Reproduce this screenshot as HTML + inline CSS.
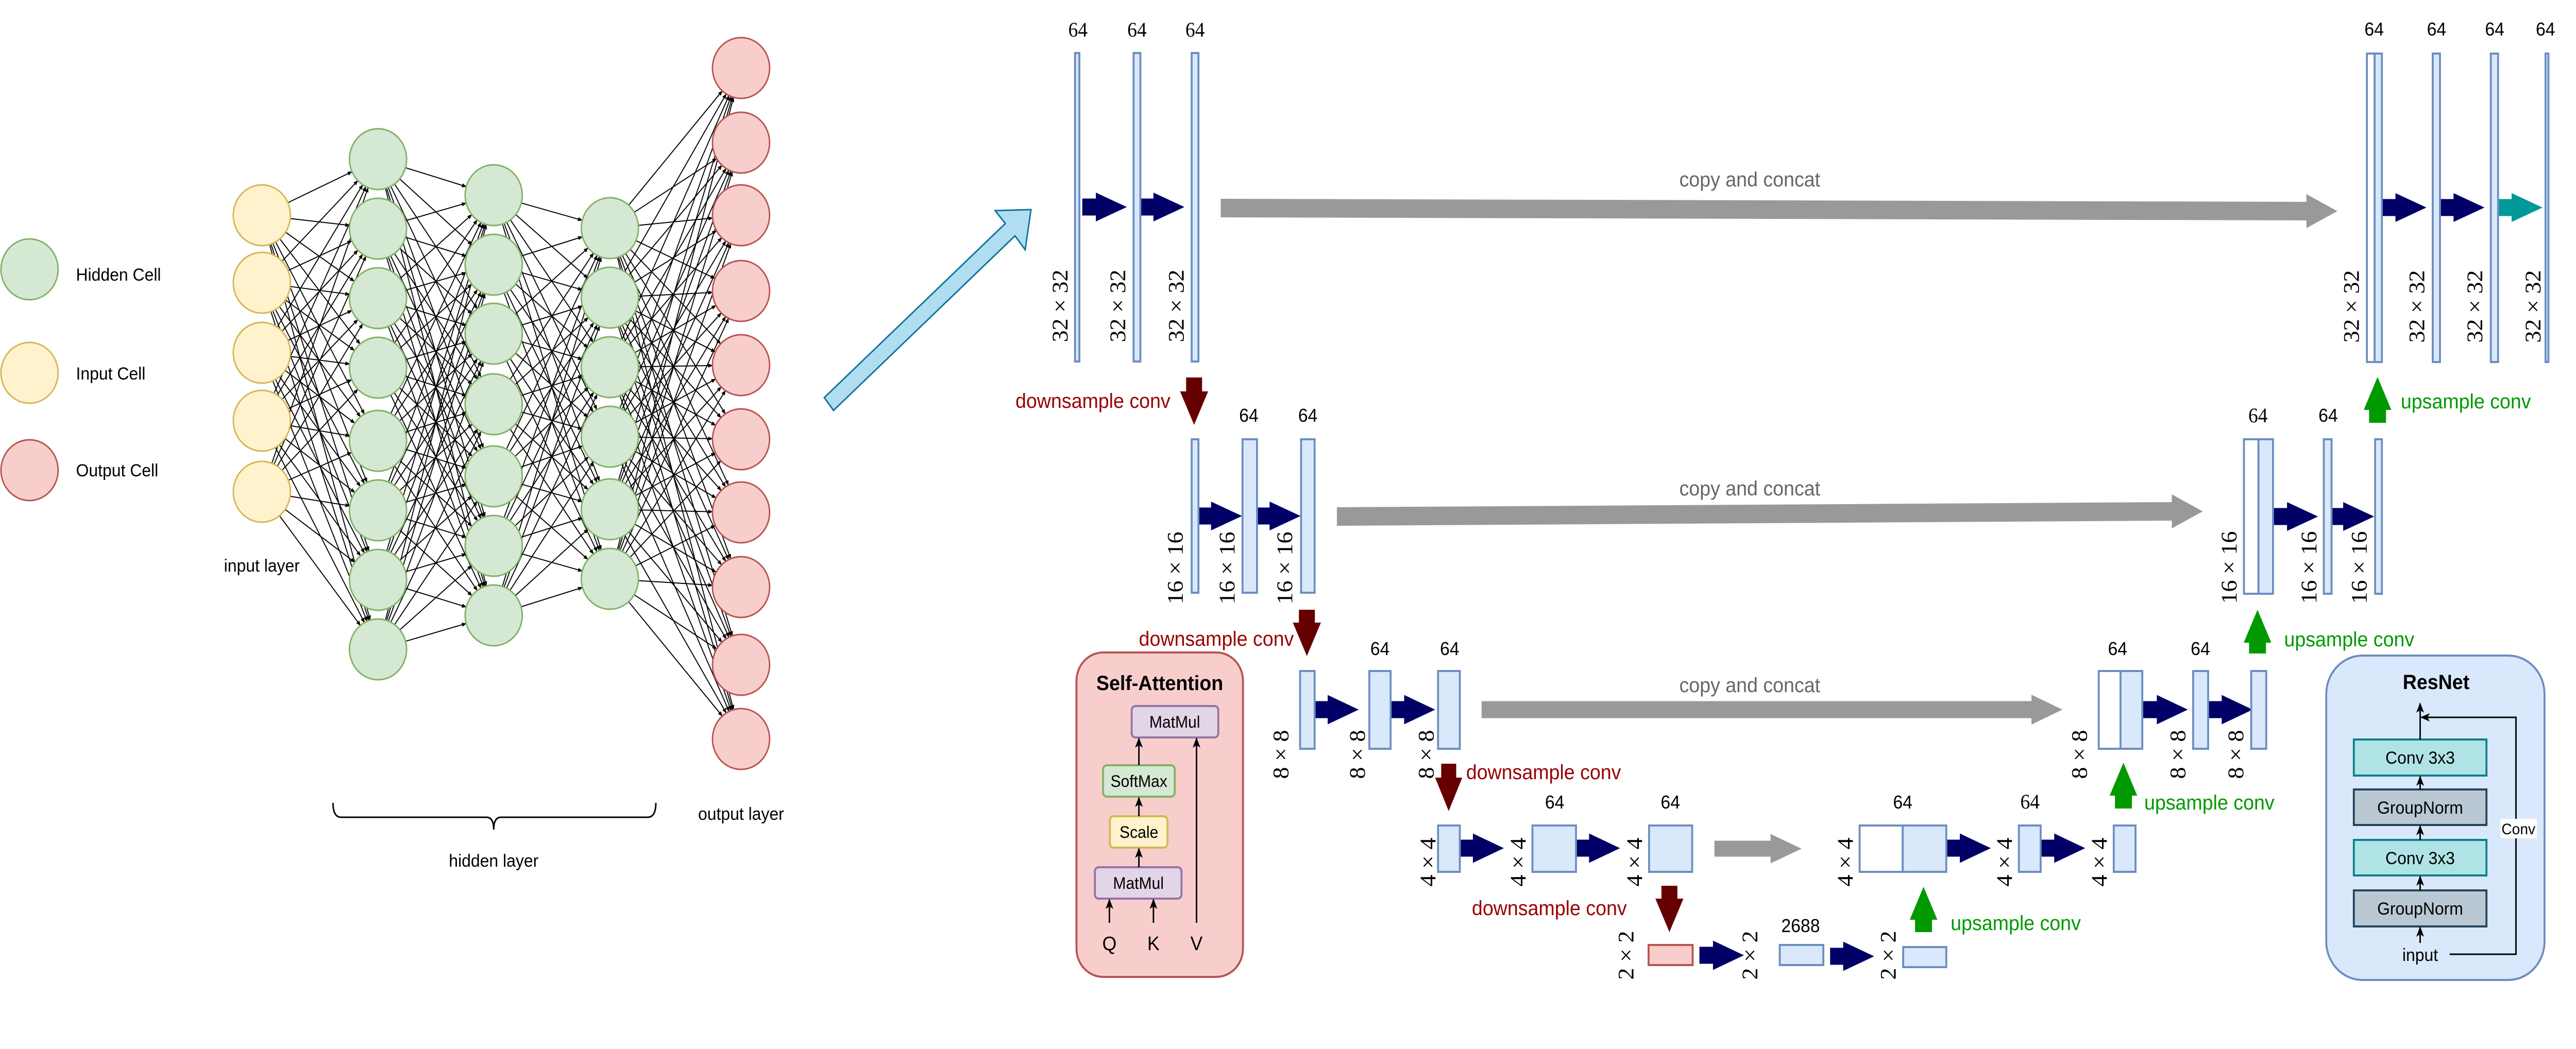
<!DOCTYPE html>
<html><head><meta charset="utf-8"><style>
html,body{margin:0;padding:0;background:#fff;overflow:hidden;width:100%;height:100%;}
svg{display:block;position:fixed;left:0;top:0;width:100vw;height:100vh;}
.s{font-family:"Liberation Sans",sans-serif;}
.r{font-family:"Liberation Serif",serif;}
</style></head><body>
<svg id="sv" viewBox="0 0 5322 2037" preserveAspectRatio="none" xmlns="http://www.w3.org/2000/svg">
<defs>
<marker id="ah" markerWidth="10" markerHeight="8" refX="9" refY="4" orient="auto" markerUnits="userSpaceOnUse"><path d="M0,0 L10,4 L0,8 z" fill="#000"/></marker>
<marker id="ah2" markerWidth="20" markerHeight="16" refX="18" refY="8" orient="auto" markerUnits="userSpaceOnUse"><path d="M0,0 L20,8 L0,16 L5,8 z" fill="#000"/></marker>
</defs>
<g id="edges" stroke="#000" stroke-width="2" fill="none"></g>
<g id="nodes"></g>
<g id="shapes"></g>

<!-- legend -->
<circle cx="61" cy="523" r="59" fill="#d5e8d4" stroke="#82b366" stroke-width="3"/>
<circle cx="61" cy="724" r="59" fill="#fff2cc" stroke="#d6b656" stroke-width="3"/>
<circle cx="61" cy="913" r="59" fill="#f8cecc" stroke="#b85450" stroke-width="3"/>
<g class="s" font-size="34" fill="#000">
<text x="157" y="545">Hidden Cell</text>
<text x="157" y="737">Input Cell</text>
<text x="157" y="925">Output Cell</text>
<text x="541" y="1110" text-anchor="middle">input layer</text>
<text x="1531" y="1592" text-anchor="middle">output layer</text>
<text x="1020" y="1683" text-anchor="middle">hidden layer</text>
</g>
<path d="M688,1559 Q688,1587 705,1587 L1005,1587 Q1020,1587 1020,1611 M1020,1611 Q1020,1587 1035,1587 L1338,1587 Q1355,1587 1355,1559" fill="none" stroke="#000" stroke-width="3"/>

<!-- big blue arrow -->
<polygon points="1703,772 2077,434 2056,409 2130,407 2118,485 2097,458 1722,797" fill="#b1ddf0" stroke="#10739e" stroke-width="3"/>

<!-- U-Net bars -->
<g fill="#dae8fc" stroke="#6c8ebf" stroke-width="4">
<rect x="2221" y="103" width="9" height="599"/>
<rect x="2342" y="103" width="14" height="599"/>
<rect x="2462" y="103" width="14" height="599"/>
<rect x="4890" y="104" width="16" height="599" fill="#fff"/>
<rect x="4906" y="104" width="15" height="599"/>
<rect x="5026" y="104" width="15" height="599"/>
<rect x="5146" y="104" width="15" height="599"/>
<rect x="5259" y="104" width="6" height="599"/>

<rect x="2462" y="853" width="14" height="298"/>
<rect x="2567" y="853" width="30" height="298"/>
<rect x="2688" y="853" width="28" height="298"/>
<rect x="4636" y="853" width="30" height="300" fill="#fff"/>
<rect x="4666" y="853" width="30" height="300"/>
<rect x="4801" y="853" width="16" height="300"/>
<rect x="4907" y="853" width="14" height="300"/>

<rect x="2686" y="1303" width="30" height="151"/>
<rect x="2829" y="1303" width="44" height="151"/>
<rect x="2971" y="1303" width="45" height="151"/>
<rect x="4336" y="1303" width="45" height="151" fill="#fff"/>
<rect x="4381" y="1303" width="45" height="151"/>
<rect x="4531" y="1303" width="31" height="151"/>
<rect x="4651" y="1303" width="31" height="151"/>

<rect x="2971" y="1603" width="45" height="90"/>
<rect x="3166" y="1603" width="90" height="90"/>
<rect x="3407" y="1603" width="89" height="90"/>
<rect x="3842" y="1603" width="89" height="90" fill="#fff"/>
<rect x="3931" y="1603" width="90" height="90"/>
<rect x="4171" y="1603" width="45" height="90"/>
<rect x="4367" y="1603" width="45" height="90"/>

<rect x="3406" y="1835" width="91" height="39" fill="#f8cecc" stroke="#b85450"/>
<rect x="3677" y="1835" width="90" height="39"/>
<rect x="3932" y="1839" width="89" height="39"/>
</g>

<!-- U-Net labels -->
<g class="r" font-size="40" text-anchor="middle" fill="#000">
<text x="2227" y="71">64</text><text x="2349" y="71">64</text><text x="2469" y="71">64</text>
<text x="4665" y="820">64</text><text x="4194" y="1570">64</text>
</g>
<g class="s" font-size="36" text-anchor="middle" fill="#000">
<text x="4905" y="69">64</text><text x="5034" y="69">64</text><text x="5154" y="69">64</text><text x="5259" y="69">64</text>
<text x="2580" y="819">64</text><text x="2702" y="819">64</text>
<text x="4810" y="819">64</text>
<text x="2851" y="1272">64</text><text x="2995" y="1272">64</text>
<text x="4375" y="1272">64</text><text x="4546" y="1272">64</text>
<text x="3212" y="1570">64</text><text x="3451" y="1570">64</text><text x="3931" y="1570">64</text>
<text x="3720" y="1810">2688</text>
</g>
<g class="r" font-size="46" text-anchor="middle" dominant-baseline="central" fill="#000">
<text transform="translate(2190,594) rotate(-90)">32 × 32</text>
<text transform="translate(2309,594) rotate(-90)">32 × 32</text>
<text transform="translate(2430,594) rotate(-90)">32 × 32</text>
<text transform="translate(4858,595) rotate(-90)">32 × 32</text>
<text transform="translate(4993,595) rotate(-90)">32 × 32</text>
<text transform="translate(5113,595) rotate(-90)">32 × 32</text>
<text transform="translate(5233,595) rotate(-90)">32 × 32</text>
<text transform="translate(2428,1103) rotate(-90)">16 × 16</text>
<text transform="translate(2535,1103) rotate(-90)">16 × 16</text>
<text transform="translate(2654,1103) rotate(-90)">16 × 16</text>
<text transform="translate(4605,1102) rotate(-90)">16 × 16</text>
<text transform="translate(4770,1102) rotate(-90)">16 × 16</text>
<text transform="translate(4874,1102) rotate(-90)">16 × 16</text>
<text transform="translate(2646,1465) rotate(-90)">8 × 8</text>
<text transform="translate(2804,1465) rotate(-90)">8 × 8</text>
<text transform="translate(2946,1465) rotate(-90)">8 × 8</text>
<text transform="translate(4296,1465) rotate(-90)">8 × 8</text>
<text transform="translate(4499,1465) rotate(-90)">8 × 8</text>
<text transform="translate(4619,1465) rotate(-90)">8 × 8</text>
<text transform="translate(2950,1674) rotate(-90)">4 × 4</text>
<text transform="translate(3136,1674) rotate(-90)">4 × 4</text>
<text transform="translate(3377,1674) rotate(-90)">4 × 4</text>
<text transform="translate(3812,1674) rotate(-90)">4 × 4</text>
<text transform="translate(4141,1674) rotate(-90)">4 × 4</text>
<text transform="translate(4337,1674) rotate(-90)">4 × 4</text>
<text transform="translate(3359,1855) rotate(-90)">2 × 2</text>
<text transform="translate(3615,1855) rotate(-90)">2 × 2</text>
<text transform="translate(3901,1855) rotate(-90)">2 × 2</text>
</g>
<g class="s" font-size="40">
<text x="3615" y="362" text-anchor="middle" fill="#666">copy and concat</text>
<text x="3615" y="962" text-anchor="middle" fill="#666">copy and concat</text>
<text x="3615" y="1344" text-anchor="middle" fill="#666">copy and concat</text>
<text x="2418" y="792" text-anchor="end" fill="#990000">downsample conv</text>
<text x="2673" y="1254" text-anchor="end" fill="#990000">downsample conv</text>
<text x="3029" y="1513" fill="#990000">downsample conv</text>
<text x="3361" y="1777" text-anchor="end" fill="#990000">downsample conv</text>
<text x="4960" y="793" fill="#009900">upsample conv</text>
<text x="4719" y="1255" fill="#009900">upsample conv</text>
<text x="4430" y="1572" fill="#009900">upsample conv</text>
<text x="4030" y="1806" fill="#009900">upsample conv</text>
</g>

<!-- Self-Attention -->
<rect x="2224" y="1267" width="344" height="630" rx="55" fill="#f8cecc" stroke="#b85450" stroke-width="4"/>
<text x="2396" y="1340" class="s" font-size="40" font-weight="bold" text-anchor="middle">Self-Attention</text>
<rect x="2338" y="1371" width="179" height="61" rx="8" fill="#e1d5e7" stroke="#9673a6" stroke-width="4"/>
<rect x="2279" y="1486" width="148" height="61" rx="8" fill="#d5e8d4" stroke="#82b366" stroke-width="4"/>
<rect x="2293" y="1585" width="119" height="61" rx="8" fill="#fff2cc" stroke="#d6b656" stroke-width="4"/>
<rect x="2262" y="1684" width="179" height="61" rx="8" fill="#e1d5e7" stroke="#9673a6" stroke-width="4"/>
<g class="s" font-size="32" text-anchor="middle" fill="#000">
<text x="2427" y="1413">MatMul</text>
<text x="2353" y="1528">SoftMax</text>
<text x="2353" y="1627">Scale</text>
<text x="2352" y="1726">MatMul</text>
<text x="2292" y="1845" font-size="38">Q</text>
<text x="2383" y="1845" font-size="38">K</text>
<text x="2472" y="1845" font-size="38">V</text>
</g>
<g stroke="#000" stroke-width="3" marker-end="url(#ah2)">
<line x1="2353" y1="1684" x2="2353" y2="1648"/>
<line x1="2353" y1="1585" x2="2353" y2="1549"/>
<line x1="2353" y1="1486" x2="2353" y2="1434"/>
<line x1="2472" y1="1792" x2="2472" y2="1434"/>
<line x1="2292" y1="1792" x2="2292" y2="1747"/>
<line x1="2383" y1="1792" x2="2383" y2="1747"/>
</g>

<!-- ResNet -->
<rect x="4806" y="1273" width="451" height="630" rx="75" fill="#dae8fc" stroke="#6c8ebf" stroke-width="4"/>
<text x="5033" y="1338" class="s" font-size="40" font-weight="bold" text-anchor="middle">ResNet</text>
<rect x="4863" y="1436" width="274" height="70" fill="#b0e3e6" stroke="#0e8088" stroke-width="4"/>
<rect x="4863" y="1533" width="274" height="69" fill="#bac8d3" stroke="#23445d" stroke-width="4"/>
<rect x="4863" y="1631" width="274" height="69" fill="#b0e3e6" stroke="#0e8088" stroke-width="4"/>
<rect x="4863" y="1729" width="274" height="70" fill="#bac8d3" stroke="#23445d" stroke-width="4"/>
<g class="s" font-size="34" text-anchor="middle" fill="#000">
<text x="5000" y="1483">Conv 3x3</text>
<text x="5000" y="1580">GroupNorm</text>
<text x="5000" y="1678">Conv 3x3</text>
<text x="5000" y="1776">GroupNorm</text>
<text x="5000" y="1866">input</text>
</g>
<g stroke="#000" stroke-width="3" fill="none">
<line x1="5000" y1="1436" x2="5000" y2="1366" marker-end="url(#ah2)"/>
<line x1="5000" y1="1533" x2="5000" y2="1508" marker-end="url(#ah2)"/>
<line x1="5000" y1="1631" x2="5000" y2="1604" marker-end="url(#ah2)"/>
<line x1="5000" y1="1729" x2="5000" y2="1702" marker-end="url(#ah2)"/>
<line x1="5000" y1="1831" x2="5000" y2="1801" marker-end="url(#ah2)"/>
<polyline points="5061,1853 5198,1853 5198,1393 5002,1393" marker-end="url(#ah2)"/>
</g>
<rect x="5166" y="1590" width="75" height="38" fill="#fff"/>
<text x="5203" y="1620" class="s" font-size="30" text-anchor="middle">Conv</text>
</svg>
<script>
(function(){
var NS="http://www.w3.org/2000/svg";
function el(p,t,a){var e=document.createElementNS(NS,t);for(var k in a)e.setAttribute(k,a[k]);p.appendChild(e);return e;}
var L=[
 {x:541,ys:[418,549,685,817,955],f:"#fff2cc",s:"#d6b656"},
 {x:781,ys:[309,444,579,714,856,991,1126,1261],f:"#d5e8d4",s:"#82b366"},
 {x:1020,ys:[379,514,648,785,925,1060,1195],f:"#d5e8d4",s:"#82b366"},
 {x:1260,ys:[443,578,713,848,989,1124],f:"#d5e8d4",s:"#82b366"},
 {x:1531,ys:[132,277,418,565,709,853,995,1140,1291,1435],f:"#f8cecc",s:"#b85450"}];
var eg=document.getElementById("edges"),ng=document.getElementById("nodes"),sg=document.getElementById("shapes");
var R=59;
for(var i=0;i<L.length-1;i++){var A=L[i],B=L[i+1];
 A.ys.forEach(function(y1){B.ys.forEach(function(y2){
  var dx=B.x-A.x,dy=y2-y1,d=Math.sqrt(dx*dx+dy*dy);
  el(eg,"line",{x1:A.x+dx/d*R,y1:y1+dy/d*R,x2:B.x-dx/d*R,y2:y2-dy/d*R,"marker-end":"url(#ah)"});
 });});}
L.forEach(function(l){l.ys.forEach(function(y){el(ng,"circle",{cx:l.x,cy:y,r:R,fill:l.f,stroke:l.s,"stroke-width":3});});});
function ra(x1,x2,cy,sh,hh,hl,c,cy2){cy2=cy2==null?cy:cy2;var hx=x2-hl;
 var p=[[x1,cy-sh/2],[hx,cy2-sh/2],[hx,cy2-hh/2],[x2,cy2],[hx,cy2+hh/2],[hx,cy2+sh/2],[x1,cy+sh/2]];
 el(sg,"polygon",{points:p.map(function(q){return q.join(",")}).join(" "),fill:c});}
function va(cx,y1,y2,sw,hw,hl,c){var dir=y2>y1?1:-1,hy=y2-dir*hl;
 var p=[[cx-sw/2,y1],[cx-sw/2,hy],[cx-hw/2,hy],[cx,y2],[cx+hw/2,hy],[cx+sw/2,hy],[cx+sw/2,y1]];
 el(sg,"polygon",{points:p.map(function(q){return q.join(",")}).join(" "),fill:c});}
var N="#000066";
ra(2236,2328,402,33,56,64,N);ra(2357,2447,402,33,56,64,N);
ra(4921,5013,403,33,56,64,N);ra(5041,5133,403,33,56,64,N);ra(5161,5253,403,33,56,64,"#009999");
ra(2477,2566,1002,33,56,64,N);ra(2598,2687,1002,33,56,64,N);
ra(4696,4789,1003,33,56,64,N);ra(4817,4905,1003,33,56,64,N);
ra(2718,2807,1378,33,57,64,N);ra(2875,2965,1378,33,57,64,N);
ra(4426,4520,1378,33,57,64,N);ra(4562,4654,1378,33,57,64,N);
ra(3016,3107,1647,33,57,64,N);ra(3256,3347,1647,33,57,64,N);
ra(4021,4113,1647,33,57,64,N);ra(4216,4308,1647,33,57,64,N);
ra(3511,3603,1855,33,57,64,N);ra(3781,3872,1857,33,57,64,N);
var G="#999999";
ra(2522,4829,404,36,66,64,G,410);
ra(2762,4551,1003,36,66,64,G,993);
ra(3061,4261,1378,33,58,64,G);
ra(3542,3722,1648,31,57,64,G);
var M="#660000";
va(2467,733,825,33,58,65,M);va(2700,1184,1274,33,58,65,M);va(2993,1483,1575,31,56,65,M);va(3449,1720,1810,33,58,65,M);
var Gr="#009900";
va(4912,821,732,35,57,64,Gr);va(4664,1269,1184,35,57,64,Gr);va(4387,1570,1481,35,57,64,Gr);va(3974,1810,1722,35,57,64,Gr);
})();
</script>
</body></html>
